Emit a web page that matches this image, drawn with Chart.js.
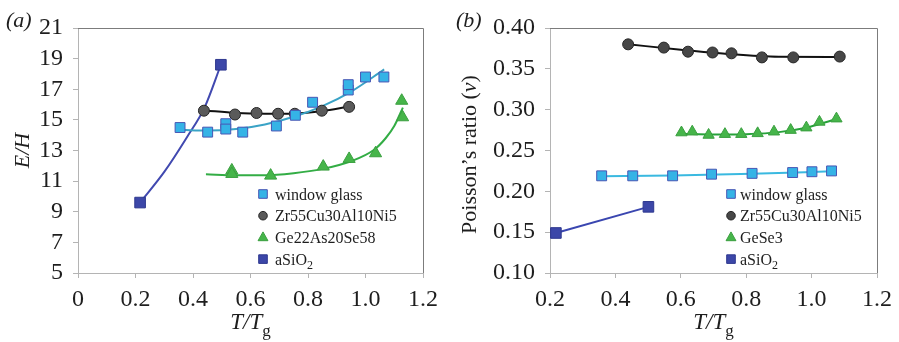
<!DOCTYPE html>
<html>
<head>
<meta charset="utf-8">
<script src="https://cdn.jsdelivr.net/npm/chart.js@4"></script>
<style>
  html, body { margin: 0; padding: 0; background: #fff; }
  #wrap { position: relative; width: 899px; height: 342px; }
  .panel { position: absolute; top: 0; height: 342px; }
  #pa { left: 0; width: 450px; }
  #pb { left: 450px; width: 449px; }
</style>
</head>
<body>
<div id="wrap">
  <div class="panel" id="pa"><canvas id="ca"></canvas></div>
  <div class="panel" id="pb"><canvas id="cb"></canvas></div>
</div>
<script>
// ---- panel (a): E/H against T/Tg ----
const A_X_TICKS = [0, 0.2, 0.4, 0.6, 0.8, 1.0, 1.2];
const A_X_LABELS = ['0', '0.2', '0.4', '0.6', '0.8', '1.0', '1.2'];
const A_Y_TICKS = [5, 7, 9, 11, 13, 15, 17, 19, 21];

const A_GLASS_X = [0.355, 0.451, 0.514, 0.514, 0.573, 0.69, 0.756, 0.816, 0.94, 0.94, 1.0, 1.064];
const A_GLASS_Y = [14.5, 14.2, 14.75, 14.4, 14.2, 14.6, 15.3, 16.15, 16.95, 17.3, 17.8, 17.8];
const A_GLASS_FIT_X = [0.36, 0.45, 0.55, 0.65, 0.75, 0.85, 0.95, 1.065];
const A_GLASS_FIT_Y = [14.35, 14.3, 14.4, 14.7, 15.2, 15.9, 16.85, 18.3];

const A_ZR_X = [0.438, 0.546, 0.621, 0.696, 0.754, 0.848, 0.943];
const A_ZR_Y = [15.6, 15.35, 15.45, 15.4, 15.4, 15.6, 15.85];
const A_ZR_FIT_X = [0.44, 0.55, 0.65, 0.75, 0.85, 0.94];
const A_ZR_FIT_Y = [15.62, 15.45, 15.4, 15.42, 15.58, 15.85];

const A_GE_X = [0.535, 0.535, 0.67, 0.853, 0.943, 1.035, 1.126, 1.129];
const A_GE_Y = [11.7, 11.47, 11.36, 11.95, 12.45, 12.82, 16.25, 15.17];
const A_GE_FIT_X = [0.445, 0.55, 0.65, 0.75, 0.85, 0.95, 1.03, 1.07, 1.10, 1.13];
const A_GE_FIT_Y = [11.45, 11.38, 11.38, 11.52, 11.8, 12.3, 13.05, 13.8, 14.6, 15.8];

const A_SIO2_X = [0.216, 0.497];
const A_SIO2_Y = [9.6, 18.6];
const A_SIO2_FIT_X = [0.216, 0.30, 0.38, 0.44, 0.497];
const A_SIO2_FIT_Y = [9.6, 11.6, 13.9, 15.8, 18.6];

// ---- panel (b): Poisson's ratio against T/Tg ----
const B_X_TICKS = [0.2, 0.4, 0.6, 0.8, 1.0, 1.2];
const B_X_LABELS = ['0.2', '0.4', '0.6', '0.8', '1.0', '1.2'];
const B_Y_TICKS = [0.10, 0.15, 0.20, 0.25, 0.30, 0.35, 0.40];
const B_Y_LABELS = ['0.10', '0.15', '0.20', '0.25', '0.30', '0.35', '0.40'];

const B_GLASS_X = [0.358, 0.453, 0.575, 0.694, 0.818, 0.942, 1.001, 1.061];
const B_GLASS_Y = [0.219, 0.219, 0.219, 0.221, 0.222, 0.223, 0.224, 0.225];
const B_GLASS_FIT_X = [0.358, 0.575, 0.818, 1.061];
const B_GLASS_FIT_Y = [0.2185, 0.2195, 0.2215, 0.2245];

const B_ZR_X = [0.439, 0.548, 0.622, 0.697, 0.755, 0.848, 0.944, 1.086];
const B_ZR_Y = [0.380, 0.376, 0.371, 0.370, 0.369, 0.364, 0.364, 0.365];
const B_ZR_FIT_X = [0.439, 0.6, 0.75, 0.9, 1.086];
const B_ZR_FIT_Y = [0.380, 0.3735, 0.368, 0.3648, 0.3645];

const B_GE_X = [0.602, 0.635, 0.685, 0.735, 0.785, 0.835, 0.885, 0.936, 0.984, 1.024, 1.076];
const B_GE_Y = [0.272, 0.273, 0.269, 0.270, 0.270, 0.271, 0.273, 0.275, 0.278, 0.285, 0.289];
const B_GE_FIT_X = [0.602, 0.70, 0.80, 0.90, 0.98, 1.03, 1.076];
const B_GE_FIT_Y = [0.2705, 0.2695, 0.2700, 0.2725, 0.2775, 0.283, 0.2885];

const B_SIO2_X = [0.218, 0.501];
const B_SIO2_Y = [0.149, 0.181];

const SERIF = '"Liberation Serif", "Times New Roman", serif';

const pts = (xs, ys) => xs.map((x, i) => ({ x, y: ys[i] }));

const STYLE = {
  glass: { pointStyle: 'rect', radius: 7, fill: '#35b3e6', edge: '#4856b4' },
  zr: { pointStyle: 'circle', radius: 5.5, fill: '#5a5a5a', edge: '#262626' },
  ge: { pointStyle: 'triangle', radius: 7, fill: '#46b54a', edge: '#3a9f3f' },
  sio2: { pointStyle: 'rect', radius: 7.5, fill: '#3c47a8', edge: '#2e388f' },
};

function markers(label, data, s) {
  return {
    legendLabel: label, marker: s, data,
    showLine: false,
    pointStyle: s.pointStyle, pointRadius: s.radius,
    backgroundColor: s.fill, borderColor: s.edge, borderWidth: 1,
  };
}

function fit(data, color) {
  return {
    data, showLine: true, pointRadius: 0, borderColor: color, borderWidth: 2,
    cubicInterpolationMode: 'monotone',
  };
}

// text made of runs: [text, flags] with 'i' italic, 's' subscript
function runFont(size, flags) {
  const sz = flags.includes('s') ? Math.round(size * 0.72) : size;
  return (flags.includes('i') ? 'italic ' : '') + sz + 'px ' + SERIF;
}
function richWidth(ctx, runs, size) {
  let w = 0;
  runs.forEach(([t, f]) => { ctx.font = runFont(size, f); w += ctx.measureText(t).width; });
  return w;
}
function drawRich(ctx, runs, x, y, size, align) {
  let cx = align === 'center' ? x - richWidth(ctx, runs, size) / 2 : x;
  ctx.textAlign = 'left';
  ctx.textBaseline = 'alphabetic';
  runs.forEach(([t, f]) => {
    ctx.font = runFont(size, f);
    ctx.fillText(t, cx, y + (f.includes('s') ? size * 0.3 : 0));
    cx += ctx.measureText(t).width;
  });
}

function drawMarker(ctx, s, x, y, r) {
  ctx.fillStyle = s.fill;
  ctx.strokeStyle = s.edge;
  ctx.lineWidth = 1;
  ctx.beginPath();
  if (s.pointStyle === 'circle') {
    ctx.arc(x, y, r, 0, Math.PI * 2);
  } else if (s.pointStyle === 'triangle') {
    ctx.moveTo(x, y - r);
    ctx.lineTo(x + r * 0.9, y + r * 0.6);
    ctx.lineTo(x - r * 0.9, y + r * 0.6);
    ctx.closePath();
  } else {
    ctx.rect(x - r, y - r, 2 * r, 2 * r);
  }
  ctx.fill();
  ctx.stroke();
}

// panel label, axis titles with subscripts, frame and legend
const decoPlugin = {
  id: 'deco',
  afterDraw(chart, args, o) {
    const ctx = chart.ctx;
    const a = chart.chartArea;
    ctx.save();
    // upper and right frame lines
    ctx.strokeStyle = '#7c7c7c';
    ctx.lineWidth = 1;
    ctx.beginPath();
    ctx.moveTo(a.left, a.top + 0.5);
    ctx.lineTo(a.right + 0.5, a.top + 0.5);
    ctx.lineTo(a.right + 0.5, a.bottom);
    ctx.stroke();

    ctx.fillStyle = '#1e1e1e';
    drawRich(ctx, [[o.panel, 'i']], o.panelX, 27, 22, 'left');
    drawRich(ctx, o.xTitle, (a.left + a.right) / 2, 329, 23, 'center');

    ctx.save();
    ctx.translate(o.yTitleX, (a.top + a.bottom) / 2 + o.yShift);
    ctx.rotate(-Math.PI / 2);
    drawRich(ctx, o.yTitle, 0, 7, 22, 'center');
    ctx.restore();

    const lg = o.legend;
    chart.data.datasets.filter(d => d.legendLabel).forEach((d, i) => {
      const y = lg.y0 + i * lg.dy;
      drawMarker(ctx, d.marker, lg.markerX, y, d.marker.pointStyle === 'triangle' ? 5.5 : 4.3);
      ctx.fillStyle = '#1e1e1e';
      drawRich(ctx, d.legendLabel, lg.textX, y + 5.5, 16, 'left');
    });
    ctx.restore();
  },
};

function axisCfg(ticks, labels, min, max, fixed, pad) {
  return {
    type: 'linear', min, max,
    border: { color: '#b4b4b4', width: 1 },
    grid: { drawOnChartArea: false, drawTicks: true, tickLength: 5, color: '#b4b4b4' },
    afterBuildTicks: s => { s.ticks = ticks.map(v => ({ value: v })); },
    afterFit: s => { if (s.isHorizontal()) s.height = fixed; else s.width = fixed; },
    ticks: {
      padding: pad,
      autoSkip: false,
      maxRotation: 0,
      color: '#1e1e1e',
      font: { family: SERIF, size: 24 },
      callback: v => labels[ticks.findIndex(t => Math.abs(t - v) < 1e-9)],
    },
  };
}

function makeChart(id, datasets, opts) {
  return new Chart(document.getElementById(id), {
    type: 'scatter',
    data: { datasets },
    plugins: [decoPlugin],
    options: {
      responsive: true, maintainAspectRatio: false, animation: false,
      layout: { padding: { left: 0, top: 28, right: opts.padRight, bottom: 0 } },
      scales: { x: opts.x, y: opts.y },
      plugins: { legend: { display: false }, tooltip: { enabled: false }, deco: opts.deco },
    },
  });
}

const T_TG = [['T/T', 'i'], ['g', 's']];

makeChart('ca', [
  markers([['window glass', '']], pts(A_GLASS_X, A_GLASS_Y), STYLE.glass),
  markers([['Zr55Cu30Al10Ni5', '']], pts(A_ZR_X, A_ZR_Y), STYLE.zr),
  markers([['Ge22As20Se58', '']], pts(A_GE_X, A_GE_Y), STYLE.ge),
  markers([['aSiO', ''], ['2', 's']], pts(A_SIO2_X, A_SIO2_Y), STYLE.sio2),
  fit(pts(A_GLASS_FIT_X, A_GLASS_FIT_Y), '#3aa3c6'),
  fit(pts(A_ZR_FIT_X, A_ZR_FIT_Y), '#111111'),
  fit(pts(A_GE_FIT_X, A_GE_FIT_Y), '#33ad45'),
  fit(pts(A_SIO2_FIT_X, A_SIO2_FIT_Y), '#4149b0'),
], {
  padRight: 27,
  x: axisCfg(A_X_TICKS, A_X_LABELS, 0, 1.2, 69, 7),
  y: axisCfg(A_Y_TICKS, A_Y_TICKS.map(String), 5, 21, 78, 10),
  deco: {
    panel: '(a)', panelX: 6, xTitle: T_TG,
    yTitle: [['E/H', 'i']], yTitleX: 22, yShift: 0,
    legend: { markerX: 263, textX: 275, y0: 194, dy: 21.7 },
  },
});

makeChart('cb', [
  markers([['window glass', '']], pts(B_GLASS_X, B_GLASS_Y), STYLE.glass),
  markers([['Zr55Cu30Al10Ni5', '']], pts(B_ZR_X, B_ZR_Y), { ...STYLE.zr, fill: '#474747' }),
  markers([['GeSe3', '']], pts(B_GE_X, B_GE_Y), { ...STYLE.ge, radius: 6.5 }),
  markers([['aSiO', ''], ['2', 's']], pts(B_SIO2_X, B_SIO2_Y), STYLE.sio2),
  fit(pts(B_GLASS_FIT_X, B_GLASS_FIT_Y), '#3ab9e0'),
  fit(pts(B_ZR_FIT_X, B_ZR_FIT_Y), '#111111'),
  fit(pts(B_GE_FIT_X, B_GE_FIT_Y), '#27a23a'),
  fit(pts(B_SIO2_X, B_SIO2_Y), '#3a46b0'),
], {
  padRight: 17,
  x: axisCfg(B_X_TICKS, B_X_LABELS, 0.2, 1.2, 69, 7),
  y: axisCfg(B_Y_TICKS, B_Y_LABELS, 0.10, 0.40, 100, 10),
  deco: {
    panel: '(b)', panelX: 6, xTitle: T_TG,
    yTitle: [['Poisson\u2019s ratio (', ''], ['v', 'i'], [')', '']], yTitleX: 19, yShift: 4,
    legend: { markerX: 281, textX: 290, y0: 194, dy: 21.7 },
  },
});
</script>
</body>
</html>
